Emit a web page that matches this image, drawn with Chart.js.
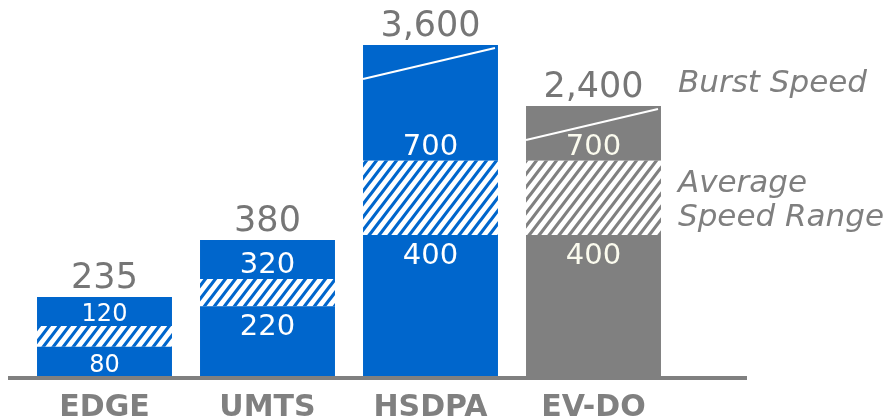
<!DOCTYPE html>
<html>
<head>
<meta charset="utf-8">
<title>Network speeds</title>
<script src="https://cdn.jsdelivr.net/npm/chart.js@4"></script>
<style>
  html, body { margin: 0; padding: 0; background: #fff; }
  #wrap { width: 892px; height: 420px; position: relative; }
</style>
</head>
<body>
<div id="wrap"><canvas id="speedChart"></canvas></div>
<script>
// data
const networks = ['EDGE', 'UMTS', 'HSDPA', 'EV-DO'];
const avgLow = [80, 220, 400, 400];
const avgHigh = [120, 320, 700, 700];
const burst = [235, 380, 3600, 2400];

const BLUE = '#0066cc';
const GREY = '#808080';
const barColors = ['blue', 'blue', 'blue', 'grey'].map(c => c === 'blue' ? BLUE : GREY);

// striped fill for the average range
function stripes(color) {
    const w = 10, h = 13;
    const c = document.createElement('canvas');
    c.width = w;
    c.height = h;
    const g = c.getContext('2d');
    g.fillStyle = '#ffffff';
    g.fillRect(0, 0, w, h);
    g.strokeStyle = color;
    g.lineWidth = 3.2;
    g.beginPath();
    for (let k = -1; k <= 1; k++) {
        g.moveTo(k * w - w, h + h);
        g.lineTo(k * w + 2 * w, -h);
    }
    g.stroke();
    return g.createPattern(c, 'repeat');
}

// value axis that is not drawn to scale: piecewise between stops
class SegmentedScale extends Chart.LinearScale {
    static id = 'segmented';
    static defaults = Chart.LinearScale.defaults;

    toFraction(value) {
        const stops = this.options.stops;
        if (value <= stops[0][0]) return stops[0][1];
        for (let i = 1; i < stops.length; i++) {
            if (value <= stops[i][0]) {
                const [v0, f0] = stops[i - 1];
                const [v1, f1] = stops[i];
                return f0 + (value - v0) / (v1 - v0) * (f1 - f0);
            }
        }
        return stops[stops.length - 1][1];
    }
    getPixelForValue(value) {
        return this.getPixelForDecimal(this.toFraction(value));
    }
    getValueForPixel(pixel) {
        const f = this.getDecimalForPixel(pixel);
        const stops = this.options.stops;
        for (let i = 1; i < stops.length; i++) {
            if (f <= stops[i][1]) {
                const [v0, f0] = stops[i - 1];
                const [v1, f1] = stops[i];
                return v0 + (f - f0) / (f1 - f0) * (v1 - v0);
            }
        }
        return stops[stops.length - 1][0];
    }
}
Chart.register(SegmentedScale);

const fmt = v => v.toLocaleString('en-US');

// labels, axis line and break marks
const annotate = {
    id: 'annotate',
    afterDatasetsDraw(chart) {
        const ctx = chart.ctx;
        const area = chart.chartArea;
        const mid = chart.getDatasetMeta(1).data;
        const top = chart.getDatasetMeta(2).data;
        ctx.save();

        // base line
        ctx.strokeStyle = GREY;
        ctx.lineWidth = 4;
        ctx.beginPath();
        ctx.moveTo(area.left - 15, area.bottom + 2);
        ctx.lineTo(area.right + 72, area.bottom + 2);
        ctx.stroke();

        ctx.textAlign = 'center';
        ctx.textBaseline = 'alphabetic';
        top.forEach((bar, i) => {
            const left = bar.x - bar.width / 2;

            // axis break on the tall bars
            if (burst[i] > 1000) {
                ctx.strokeStyle = '#ffffff';
                ctx.lineWidth = 2;
                ctx.beginPath();
                ctx.moveTo(left, bar.y + 34);
                ctx.lineTo(left + bar.width - 3, bar.y + 3);
                ctx.stroke();
            }

            // burst value over the bar
            ctx.fillStyle = '#767676';
            ctx.font = '35px "DejaVu Sans"';
            ctx.fillText(fmt(burst[i]), bar.x, bar.y - 9);

            // range ends inside the bar
            const segH = mid[i].y - bar.y;
            const size = Math.min(29, Math.round(segH * 0.82));
            const capH = size * 0.729;
            ctx.font = size + 'px "DejaVu Sans"';
            ctx.fillStyle = barColors[i] === GREY ? '#fbfbee' : '#ffffff';
            const hiCenter = mid[i].y - (size / 2 + 2);
            ctx.fillText(fmt(avgHigh[i]), bar.x, hiCenter + capH / 2);
            const loCenter = mid[i].base + (size / 2 + 4);
            ctx.fillText(fmt(avgLow[i]), bar.x, loCenter + capH / 2);
        });

        // series notes beside the last bar
        const last = top[top.length - 1];
        const lastMid = mid[mid.length - 1];
        const nx = last.x + last.width / 2 + 17;
        ctx.textAlign = 'left';
        ctx.fillStyle = '#7f7f7f';
        ctx.font = 'italic 31px "DejaVu Sans"';
        ctx.fillText('Burst Speed', nx, last.y - 14);
        const c = (lastMid.y + lastMid.base) / 2;
        ctx.fillText('Average', nx, c - 6);
        ctx.fillText('Speed Range', nx, c + 28);
        ctx.restore();
    }
};

Chart.defaults.font.family = '"DejaVu Sans"';

new Chart(document.getElementById('speedChart'), {
    type: 'bar',
    data: {
        labels: networks,
        datasets: [{
            label: 'Base',
            data: networks.map((_, i) => [0, avgLow[i]]),
            backgroundColor: barColors
        }, {
            label: 'Average Speed Range',
            data: networks.map((_, i) => [avgLow[i], avgHigh[i]]),
            backgroundColor: barColors.map(stripes)
        }, {
            label: 'Burst Speed',
            data: networks.map((_, i) => [avgHigh[i], burst[i]]),
            backgroundColor: barColors
        }]
    },
    options: {
        responsive: true,
        maintainAspectRatio: false,
        animation: false,
        grouped: false,
        barPercentage: 0.828,
        categoryPercentage: 1,
        layout: { padding: { left: 23, right: 217, top: 45, bottom: 0 } },
        plugins: { legend: { display: false }, tooltip: { enabled: false } },
        scales: {
            x: {
                grid: { display: false, drawTicks: false },
                border: { display: false },
                afterFit(scale) { scale.height = 44; },
                ticks: {
                    color: '#808080',
                    padding: 17,
                    font: { size: 30, weight: 'bold', lineHeight: 1 }
                }
            },
            y: {
                type: 'segmented',
                display: false,
                min: 0,
                max: 3600,
                stops: [[0, 0], [80, 0.088], [120, 0.151], [220, 0.211], [235, 0.239],
                        [320, 0.293], [380, 0.411], [700, 0.650], [2400, 0.816], [3600, 1]]
            }
        }
    },
    plugins: [annotate]
});
</script>
</body>
</html>
